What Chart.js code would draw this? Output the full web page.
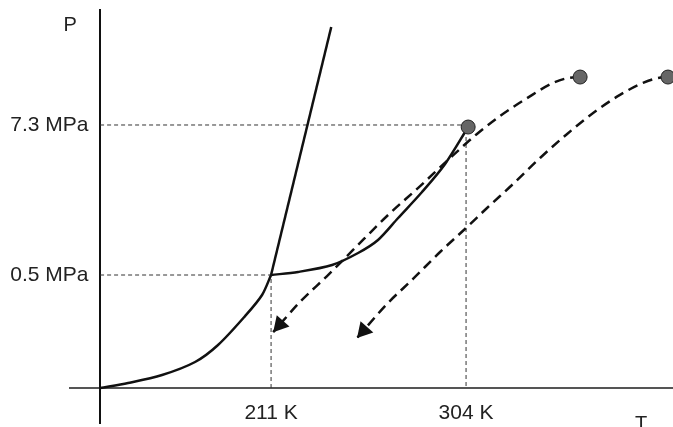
<!DOCTYPE html>
<html>
<head>
<meta charset="utf-8">
<script src="https://cdn.jsdelivr.net/npm/chart.js@4"></script>
<style>
  html, body { margin: 0; padding: 0; background: #fff; overflow: hidden; }
  canvas { display: block; }
</style>
</head>
<body>
<canvas id="phaseChart" width="673" height="427"></canvas>
<script>
// schematic CO2 phase diagram: temperature in K, pressure in MPa (log axis)
const tempTicks = [211, 304];
const pressTicks = [0.5, 7.3];

const T_MIN = 115.1, T_MAX = 402.7;
const P_MIN = 0.0355, P_MAX = 57.0;
const T_AXIS = 129.45;   // where the P axis crosses
const P_AXIS = 0.0664;   // where the T axis crosses

const triplePoint = [211, 0.5];
const criticalPoint = [304, 7.3];

const sublimationT = [129.45, 142.8, 159.0, 174.75, 185.7, 198.6, 206.7, 211];
const sublimationP = [0.0664, 0.0726, 0.0837, 0.1056, 0.1431, 0.240, 0.350, 0.5];

const meltingT = [211, 239.7];
const meltingP = [0.5, 42.1];

const boilingT = [211, 223.9, 240.1, 252.5, 262.0, 271.6, 283.0, 294.0, 305.0];
const boilingP = [0.5, 0.528, 0.598, 0.741, 0.935, 1.385, 2.204, 3.64, 7.04];

const path1T = [358.4, 352.6, 345.5, 333.1, 320.2, 309.2, 294.9, 282.1, 266.3, 250.1, 237.7, 224.8, 212.0];
const path1P = [17.2, 16.9, 15.5, 11.8, 8.57, 6.22, 3.84, 2.45, 1.435, 0.782, 0.491, 0.309, 0.180];

const path2T = [400.3, 395.6, 388.4, 377.4, 364.6, 352.2, 339.3, 326.4, 314.0, 304.5, 291.6, 278.7, 266.3, 252.0];
const path2P = [17.2, 16.9, 15.5, 12.5, 9.05, 6.22, 4.05, 2.54, 1.656, 1.18, 0.754, 0.466, 0.298, 0.162];

const markerT = [305.0, 358.4, 400.3];
const markerP = [7.04, 17.2, 17.2];

const pts = (xs, ys) => xs.map((x, i) => ({ x: x, y: ys[i] }));
const FONT = { family: '"Liberation Sans", Arial, sans-serif', size: 21 };
const noPad = s => { s.paddingLeft = s.paddingRight = s.paddingTop = s.paddingBottom = 0; };

const arrowHeads = {
  id: 'arrowHeads',
  afterDatasetsDraw(chart) {
    const ctx = chart.ctx;
    chart.data.datasets.forEach((ds, i) => {
      if (!ds.arrow) return;
      const data = chart.getDatasetMeta(i).data;
      const tip = data[data.length - 1], prev = data[data.length - 2];
      const ang = Math.atan2(tip.y - prev.y, tip.x - prev.x);
      ctx.save();
      ctx.fillStyle = '#111';
      ctx.translate(tip.x, tip.y);
      ctx.rotate(ang);
      ctx.beginPath();
      ctx.moveTo(0, 0);
      ctx.lineTo(-15, -8.5);
      ctx.lineTo(-15, 8.5);
      ctx.closePath();
      ctx.fill();
      ctx.restore();
    });
  }
};

const axisLetters = {
  id: 'axisLetters',
  afterDraw(chart) {
    const { ctx, scales: { x } } = chart;
    ctx.save();
    ctx.font = '20px "Liberation Sans", Arial, sans-serif';
    ctx.fillStyle = '#222';
    ctx.textAlign = 'center';
    ctx.textBaseline = 'alphabetic';
    ctx.fillText('P', x.getPixelForValue(T_AXIS) - 30, 31);
    ctx.fillText('T', 641, 430);
    ctx.restore();
  }
};

const solid = { borderColor: '#111', borderWidth: 2.5, pointRadius: 0, showLine: true, fill: false };
const dashed = { borderColor: '#111', borderWidth: 2.5, borderDash: [10, 6], pointRadius: 0, showLine: true, fill: false, cubicInterpolationMode: 'monotone' };
const guide = { borderColor: '#333', borderWidth: 1, borderDash: [4, 3], pointRadius: 0, showLine: true, fill: false };

new Chart(document.getElementById('phaseChart'), {
  type: 'scatter',
  data: {
    datasets: [
      { data: pts(markerT, markerP), pointRadius: 7, pointBackgroundColor: '#666', pointBorderColor: '#222', pointBorderWidth: 1, showLine: false, clip: false },
      Object.assign({ data: pts(sublimationT, sublimationP), tension: 0.3 }, solid),
      Object.assign({ data: pts(meltingT, meltingP) }, solid),
      Object.assign({ data: pts(boilingT, boilingP), tension: 0.3 }, solid),
      Object.assign({ data: pts(path1T, path1P), arrow: true }, dashed),
      Object.assign({ data: pts(path2T, path2P), arrow: true, clip: false }, dashed),
      Object.assign({ data: [{ x: T_AXIS, y: triplePoint[1] }, { x: triplePoint[0], y: triplePoint[1] }, { x: triplePoint[0], y: P_AXIS }] }, guide),
      Object.assign({ data: [{ x: T_AXIS, y: criticalPoint[1] }, { x: criticalPoint[0], y: criticalPoint[1] }, { x: criticalPoint[0], y: P_AXIS }] }, guide)
    ]
  },
  options: {
    responsive: false,
    animation: false,
    layout: { autoPadding: false, padding: { left: 70, top: 10, right: 0, bottom: 4 } },
    plugins: { legend: { display: false }, tooltip: { enabled: false } },
    scales: {
      x: {
        type: 'linear',
        min: T_MIN, max: T_MAX,
        bounds: 'data',
        position: { y: P_AXIS },
        afterBuildTicks: s => { s.ticks = tempTicks.map(v => ({ value: v })); },
        afterFit: noPad,
        grid: { display: false, drawTicks: false },
        border: { display: true, color: '#555', width: 2 },
        ticks: { callback: v => v + ' K', padding: 13, color: '#222', font: FONT, maxRotation: 0, autoSkip: false }
      },
      y: {
        type: 'logarithmic',
        min: P_MIN, max: P_MAX,
        bounds: 'data',
        position: { x: T_AXIS },
        afterBuildTicks: s => { s.ticks = pressTicks.map(v => ({ value: v })); },
        afterFit: noPad,
        grid: { display: false, drawTicks: false },
        border: { display: true, color: '#111', width: 2 },
        // labels of an axis placed at a value sit right on the line, so pad with spaces
        ticks: { callback: v => v + ' MPa  ', color: '#222', font: FONT, autoSkip: false }
      }
    }
  },
  plugins: [arrowHeads, axisLetters]
});
</script>
</body>
</html>
